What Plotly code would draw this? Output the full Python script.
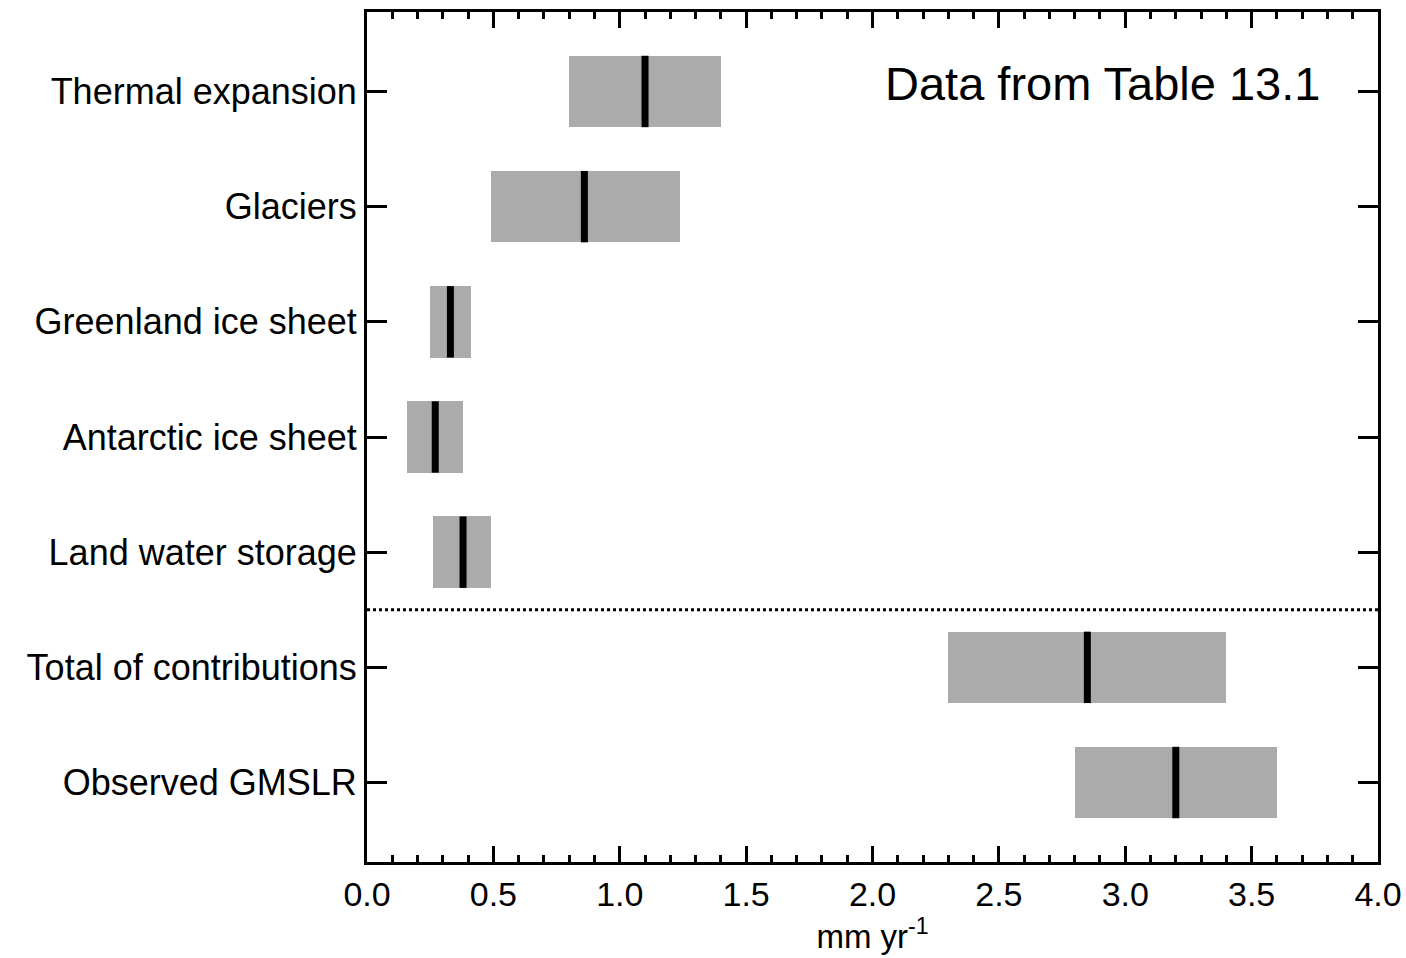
import plotly.graph_objects as go

# Contributions to global mean sea level rise, 1993-2010 (mm/yr)
categories = [
    "Thermal expansion",
    "Glaciers",
    "Greenland ice sheet",
    "Antarctic ice sheet",
    "Land water storage",
    "Total of contributions",
    "Observed GMSLR",
]
central = [1.10, 0.86, 0.33, 0.27, 0.38, 2.85, 3.20]
low = [0.80, 0.49, 0.25, 0.16, 0.26, 2.30, 2.80]
high = [1.40, 1.24, 0.41, 0.38, 0.49, 3.40, 3.60]

positions = list(range(len(categories)))
box_half = 0.31
font_family = "Liberation Sans, Arial, sans-serif"

fig = go.Figure()

# Grey uncertainty ranges
fig.add_trace(go.Bar(
    y=positions,
    x=[h - l for h, l in zip(high, low)],
    base=low,
    orientation="h",
    width=2 * box_half,
    marker=dict(color="#ababab", line=dict(width=0)),
    hoverinfo="skip",
    showlegend=False,
))

# Central estimates as thick black bars
mx, my = [], []
for p, c in zip(positions, central):
    mx += [c, c, None]
    my += [p - box_half, p + box_half, None]
fig.add_trace(go.Scatter(
    x=mx, y=my, mode="lines",
    line=dict(color="black", width=7),
    hoverinfo="skip", showlegend=False,
))

# Separator between the individual terms and the totals
fig.add_shape(
    type="line", xref="paper", x0=0, x1=1, yref="y", y0=4.5, y1=4.5,
    line=dict(color="black", width=3, dash="dot"),
)

fig.add_annotation(
    text="Data from Table 13.1",
    xref="paper", yref="paper", x=0.9446, y=0.916,
    xanchor="right", yanchor="middle", showarrow=False,
    font=dict(family=font_family, size=47, color="black"),
)

fig.update_xaxes(
    range=[0, 4],
    tickvals=[0, 0.5, 1, 1.5, 2, 2.5, 3, 3.5, 4],
    ticktext=["0.0", "0.5", "1.0", "1.5", "2.0", "2.5", "3.0", "3.5", "4.0"],
    ticks="inside", ticklen=16, tickwidth=3, tickcolor="black",
    minor=dict(dtick=0.1, tick0=0, ticks="inside", ticklen=7, tickwidth=3, tickcolor="black"),
    showline=True, linewidth=3, linecolor="black", mirror="allticks",
    showgrid=False, zeroline=False, automargin=False,
    tickfont=dict(family=font_family, size=34, color="black"),
    title=dict(text="mm yr<sup>-1</sup>", standoff=8,
               font=dict(family=font_family, size=33, color="black")),
)
fig.update_yaxes(
    range=[len(categories) - 1 + 0.69, -0.69],
    tickvals=positions, ticktext=categories,
    ticks="inside", ticklen=20, tickwidth=3, tickcolor="black",
    showline=True, linewidth=3, linecolor="black", mirror="allticks",
    showgrid=False, zeroline=False, automargin=False,
    tickfont=dict(family=font_family, size=36, color="black"),
)

fig.update_layout(
    width=1406, height=958,
    margin=dict(l=367, r=28, t=12, b=96),
    paper_bgcolor="white", plot_bgcolor="white",
    bargap=0,
)

fig.write_html("out.html")
